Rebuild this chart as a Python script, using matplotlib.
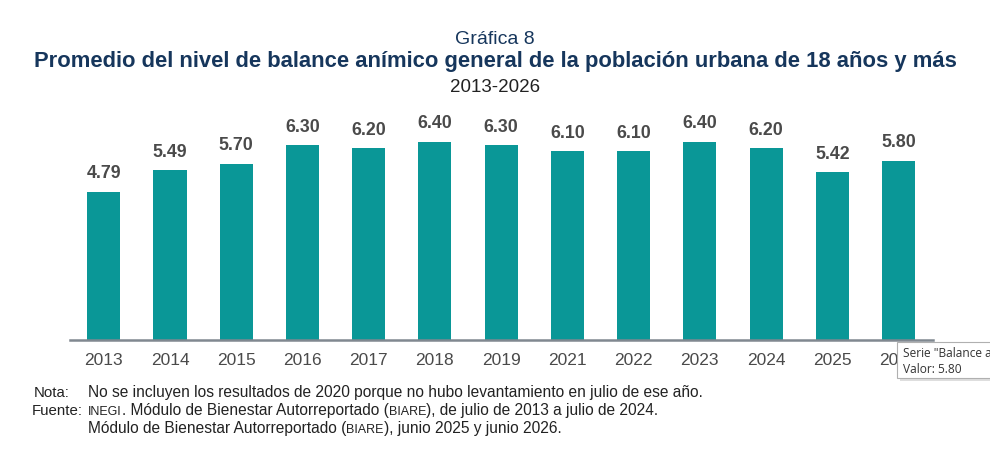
import matplotlib
matplotlib.use("Agg")
import matplotlib.pyplot as plt
from matplotlib.patches import Rectangle

years = ["2013", "2014", "2015", "2016", "2017", "2018", "2019", "2021",
         "2022", "2023", "2024", "2025", "2026"]
values = [4.79, 5.49, 5.70, 6.30, 6.20, 6.40, 6.30, 6.10, 6.10, 6.40, 6.20, 5.42, 5.80]
value_labels = ["4.79", "5.49", "5.70", "6.30", "6.20", "6.40", "6.30", "6.10",
                "6.10", "6.40", "6.20", "5.42", "5.80"]

plt.rcParams['font.family'] = ['Liberation Sans', 'DejaVu Sans']

fig = plt.figure(figsize=(9.9, 4.65), dpi=100)
W, H = 990, 465
ax = fig.add_axes([70/W, 1-340/H, (933-70)/W, (340-108)/H])

x = list(range(len(years)))
bar_color = "#0A9797"
ax.bar(x, values, width=0.5, color=bar_color, zorder=2)
ax.set_xlim(-0.51, 12.52)
ax.set_ylim(0, 7.5)
for xi, v, lab in zip(x, values, value_labels):
    ax.text(xi, v + 0.31, lab, ha='center', va='bottom', fontsize=12.8,
            fontweight='bold', color='#4A4A4A')

for s in ['top', 'right', 'left']:
    ax.spines[s].set_visible(False)
ax.spines['bottom'].set_color('#808890')
ax.spines['bottom'].set_linewidth(1.8)
ax.set_yticks([])
ax.set_xticks(x)
ax.set_xticklabels(years, fontsize=12.5, color='#4A4A4A')
ax.tick_params(axis='x', length=0, pad=9)

navy = "#16365C"
fig.text(0.5, 1-40/H, "Gráfica 8", ha='center', va='center', fontsize=14, color=navy)
fig.text(0.5, 1-62/H, "Promedio del nivel de balance anímico general de la población urbana de 18 años y más",
         ha='center', va='center', fontsize=15.8, fontweight='bold', color=navy)
fig.text(0.5, 1-87/H, "2013-2026", ha='center', va='center', fontsize=13.5, color='#222222')

# notes with small-caps style pieces
nc = '#222222'
fs = 11.2
sc = 9.0
fig.canvas.draw()
renderer = fig.canvas.get_renderer()

def segments(x0, y, parts):
    xpos = x0
    for txt, size in parts:
        t = fig.text(xpos/W, 1-y/H, txt, ha='left', va='baseline', fontsize=size, color=nc)
        bb = t.get_window_extent(renderer=renderer)
        xpos += bb.width

fig.text(34/W, 1-397/H, "Nota:", ha='left', va='baseline', fontsize=10.8, color=nc)
fig.text(32/W, 1-415/H, "Fuente:", ha='left', va='baseline', fontsize=10.8, color=nc)
bx = 88
segments(bx, 397, [("No se incluyen los resultados de 2020 porque no hubo levantamiento en julio de ese año.", fs)])
segments(bx, 415, [("INEGI", sc), (". Módulo de Bienestar Autorreportado (", fs), ("BIARE", sc),
                   ("), de julio de 2013 a julio de 2024.", fs)])
segments(bx, 433, [("Módulo de Bienestar Autorreportado (", fs), ("BIARE", sc),
                   ("), junio 2025 y junio 2026.", fs)])

# tooltip overlay
shadow = Rectangle((900/W, 1-381/H), 100/W, 36/H, transform=fig.transFigure,
                   facecolor='#C8C8C8', edgecolor='none', alpha=0.6, zorder=9)
fig.patches.append(shadow)
tip = Rectangle((897/W, 1-378/H), 100/W, 36/H, transform=fig.transFigure,
                facecolor='white', edgecolor='#B0B0B0', linewidth=0.8, zorder=10)
fig.patches.append(tip)
fig.text(903/W, 1-353/H, 'Serie "Balance anímico"', ha='left', va='center', fontsize=8.6,
         color='#333333', family=['Open Sans', 'DejaVu Sans'], zorder=11)
fig.text(903/W, 1-369/H, 'Valor: 5.80', ha='left', va='center', fontsize=8.6,
         color='#333333', family=['Open Sans', 'DejaVu Sans'], zorder=11)

fig.savefig("out.png", dpi=100, facecolor='white')
